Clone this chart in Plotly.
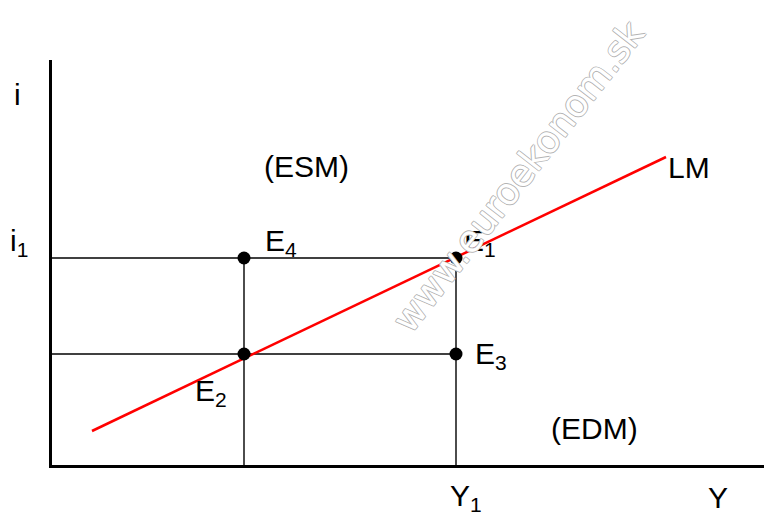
import plotly.graph_objects as go

# ---- data (abstract units) ----
Y1 = 101.0          # output level Y1
E2_x = 48.0         # output level at E2 / E4
i1 = 103.5          # interest rate i1
i_low = 55.5        # interest rate at E2 / E3
lm_x = [10.0, 153.5]   # LM curve endpoints (Y)
lm_y = [17.0, 154.0]   # LM curve endpoints (i)
point_names = ["E1", "E2", "E3", "E4"]
point_x = [Y1, E2_x, Y1, E2_x]
point_y = [i1, i_low, i_low, i1]
x_range = [0, 180]
y_range = [0, 202.5]

FONT = "Liberation Sans, Arial, sans-serif"
FS = 30

fig = go.Figure()

guide = dict(color="black", width=1.4)
fig.add_trace(go.Scatter(x=[0, Y1], y=[i1, i1], mode="lines", line=guide, hoverinfo="skip"))
fig.add_trace(go.Scatter(x=[0, Y1], y=[i_low, i_low], mode="lines", line=guide, hoverinfo="skip"))
fig.add_trace(go.Scatter(x=[E2_x, E2_x], y=[0, i1], mode="lines", line=guide, hoverinfo="skip"))
fig.add_trace(go.Scatter(x=[Y1, Y1], y=[-1.5, i1], mode="lines", line=guide, hoverinfo="skip",
                         cliponaxis=False))
# LM curve
fig.add_trace(go.Scatter(x=lm_x, y=lm_y, mode="lines",
                         line=dict(color="#ff0000", width=2.5), hoverinfo="skip"))
# points
fig.add_trace(go.Scatter(x=point_x, y=point_y, mode="markers",
                         marker=dict(color="black", size=13), hoverinfo="skip",
                         cliponaxis=False))

def ann(text, x, y, xref="x", yref="y", xs=0, ys=0, **kw):
    fig.add_annotation(text=text, x=x, y=y, xref=xref, yref=yref,
                       xshift=xs, yshift=ys, showarrow=False,
                       xanchor="center", yanchor="middle",
                       font=dict(family=FONT, size=FS, color="black"), **kw)

ann("E<sub>1</sub>", Y1, i1, xs=24, ys=16)
ann("E<sub>4</sub>", E2_x, i1, xs=37, ys=16)
ann("E<sub>3</sub>", Y1, i_low, xs=35, ys=-1)
ann("E<sub>2</sub>", E2_x, i_low, xs=-33, ys=-38)
ann("LM", lm_x[1], lm_y[1], xs=23, ys=-10)
ann("Y<sub>1</sub>", Y1, 0, yref="paper", xs=10, ys=-32)
ann("Y", 1, 0, xref="paper", yref="paper", xs=-54, ys=-32)
ann("i<sub>1</sub>", 0, i1, xref="paper", xs=-33, ys=16)
ann("i", 0, 1, xref="paper", yref="paper", xs=-35, ys=-34)
ann("(ESM)", 0.354, 0.736, xref="paper", yref="paper")
ann("(EDM)", 0.754, 0.091, xref="paper", yref="paper")

# watermark
fig.add_annotation(text="www.euroekonom.sk", x=0.648, y=0.713, xref="paper", yref="paper",
                   xanchor="center", yanchor="middle",
                   showarrow=False, textangle=-52,
                   font=dict(family="DejaVu Sans, sans-serif", size=37, color="white",
                             shadow="-0.7px -0.7px 0 #b4b4b4, 0.7px -0.7px 0 #b4b4b4, "
                                    "-0.7px 0.7px 0 #b4b4b4, 0.7px 0.7px 0 #b4b4b4"))

# page body has an 8px margin: shrink figure so plot area lands where the reference has it
fig.update_layout(
    width=764, height=505,
    margin=dict(l=44, r=0, t=52, b=48),
    paper_bgcolor="white", plot_bgcolor="white",
    showlegend=False,
    xaxis=dict(range=x_range, showgrid=False, zeroline=False, showticklabels=False,
               ticks="", showline=True, linecolor="black", linewidth=3),
    yaxis=dict(range=y_range, showgrid=False, zeroline=False, showticklabels=False,
               ticks="", showline=True, linecolor="black", linewidth=3),
)

fig.write_html("out.html")
